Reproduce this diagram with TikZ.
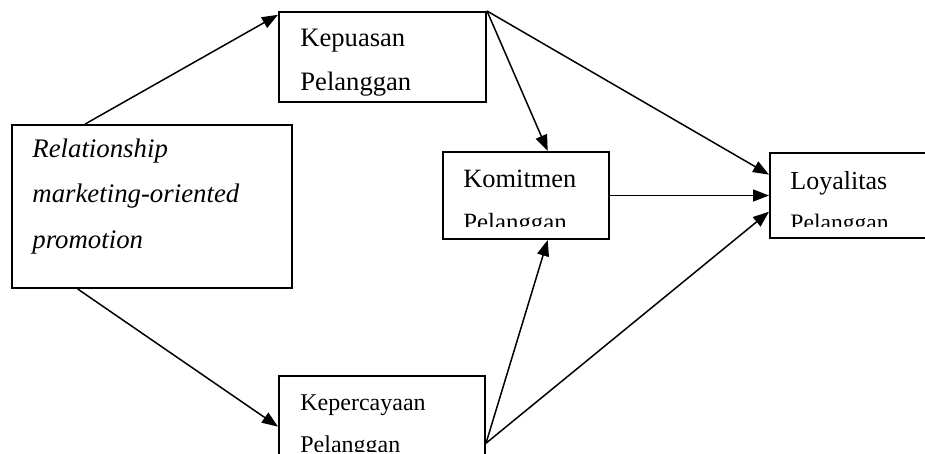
\documentclass[tikz,border=0pt]{standalone}
\usepackage{fontspec}
\setmainfont{Liberation Serif}
\usetikzlibrary{arrows.meta,fit}

\begin{document}
\begin{tikzpicture}[x=0.5pt,y=-0.5pt,
  box/.style={draw, line width=1pt, inner sep=0pt},
  lbl/.style={anchor=base west, inner sep=0pt},
  link/.style={line width=0.75pt, -{Triangle[length=8pt,width=6pt]}}]
  \useasboundingbox (0,0) rectangle (925,454);
  \clip (0,0) rectangle (925,454);

  % boxes
  \node[box, fit={(12,125) (292,288)}] (promo) {};
  \node[box, fit={(279,12) (486,102)}] (kepuasan) {};
  \node[box, fit={(443,152) (609,239)}] (komitmen) {};
  \node[box, fit={(770,153) (935,238)}] (loyalitas) {};
  \node[box, fit={(279,376) (485,470)}] (kepercayaan) {};

  % texts, cut off at the inside of each box
  \begin{scope}
    \clip (12,125) rectangle (292,288);
    \node[lbl, font=\fontsize{13.4}{16}\selectfont\itshape] (promo-a) at (32,158) {Relationship};
    \node[lbl, font=\fontsize{13.4}{16}\selectfont\itshape] (promo-b) at (32,203) {marketing-oriented};
    \node[lbl, font=\fontsize{13.4}{16}\selectfont\itshape] (promo-c) at (32,249) {promotion};
  \end{scope}
  \begin{scope}
    \clip (279,12) rectangle (486,97);
    \node[lbl, font=\fontsize{13.3}{16}\selectfont] (kepuasan-a) at (300,47) {Kepuasan};
    \node[lbl, font=\fontsize{13.3}{16}\selectfont] (kepuasan-b) at (300,91) {Pelanggan};
  \end{scope}
  \begin{scope}
    \clip (443,152) rectangle (609,227);
    \node[lbl, font=\fontsize{13.2}{16}\selectfont] (komitmen-a) at (463,188) {Komitmen};
    \node[lbl, font=\fontsize{12.4}{15}\selectfont] (komitmen-b) at (463,230) {Pelanggan};
  \end{scope}
  \begin{scope}
    \clip (770,153) rectangle (935,227);
    \node[lbl, font=\fontsize{13}{16}\selectfont] (loyalitas-a) at (790,190) {Loyalitas};
    \node[lbl, font=\fontsize{11.8}{14}\selectfont] (loyalitas-b) at (790,230) {Pelanggan};
  \end{scope}
  \begin{scope}
    \clip (279,376) rectangle (485,451);
    \node[lbl, font=\fontsize{12}{15}\selectfont] (kepercayaan-a) at (300,410) {Kepercayaan};
    \node[lbl, font=\fontsize{12}{15}\selectfont] (kepercayaan-b) at (300,452) {Pelanggan};
  \end{scope}

  % arrows
  \draw[link] (promo.129) -- (kepuasan.158);
  \draw[link] (promo.228.5) -- (kepercayaan.182.8);
  \draw[link] (kepuasan.north east) -- (komitmen.64);
  \draw[link] (kepuasan.north east) -- (loyalitas.166);
  \draw[link] (komitmen.east) -- (loyalitas.west);
  \draw[link] (kepercayaan.349) -- (komitmen.296);
  \draw[link] (kepercayaan.349) -- (loyalitas.191.3);

\end{tikzpicture}
\end{document}
